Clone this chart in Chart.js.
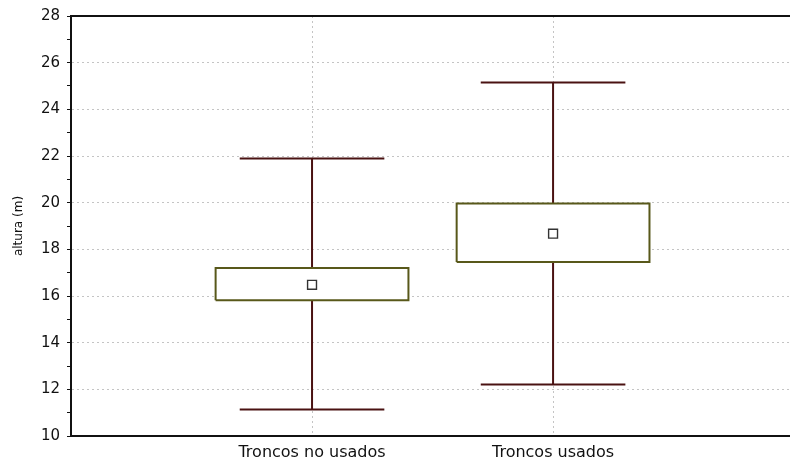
<!DOCTYPE html>
<html lang="es">
<head>
  <meta charset="UTF-8">
  <title>altura (m)</title>
  <style>
    body, html { margin:0; padding:0; overflow:hidden; background:#fff; }
    /* the plot runs past the right edge of the window, as in the original */
    #wrap { width:830px; height:463px; }
  </style>
</head>
<body>
  <div id="wrap"><canvas id="chart"></canvas></div>

  <script src="https://cdn.jsdelivr.net/npm/chart.js"></script>
  <script>
    // values
    const groups      = ['Troncos no usados', 'Troncos usados'];
    const whiskerLow  = [11.14, 12.21];
    const whiskerHigh = [21.89, 25.15];
    const boxLow      = [15.82, 17.46];
    const boxHigh     = [17.20, 19.96];
    const means       = [16.48, 18.67];
    const yTicks      = [10, 12, 14, 16, 18, 20, 22, 24, 26, 28];

    const whiskerColor = '#4a1212', boxColor = '#58581a';
    const capHalf = 0.30, boxHalf = 0.40;

    const datasets = [];
    groups.forEach((g, i) => {
      const x = i + 1;
      const seg = (pts, color, order) => ({
        data: pts, showLine: true, pointRadius: 0, borderColor: color,
        borderWidth: 2, fill: false, order: order
      });
      // whiskers
      datasets.push(seg([{x, y: whiskerLow[i]}, {x, y: whiskerHigh[i]}], whiskerColor, 3));
      datasets.push(seg([{x: x - capHalf, y: whiskerLow[i]}, {x: x + capHalf, y: whiskerLow[i]}], whiskerColor, 3));
      datasets.push(seg([{x: x - capHalf, y: whiskerHigh[i]}, {x: x + capHalf, y: whiskerHigh[i]}], whiskerColor, 3));
      // box
      datasets.push({
        data: [
          {x: x - boxHalf, y: boxLow[i]}, {x: x - boxHalf, y: boxHigh[i]},
          {x: x + boxHalf, y: boxHigh[i]}, {x: x + boxHalf, y: boxLow[i]},
          {x: x - boxHalf, y: boxLow[i]}
        ],
        showLine: true, pointRadius: 0, borderColor: boxColor, borderWidth: 2,
        backgroundColor: '#fff', fill: 'shape', tension: 0, order: 2
      });
      // mean
      datasets.push({
        data: [{x, y: means[i]}], pointStyle: 'rect', pointRadius: 6.3,
        pointBackgroundColor: '#fff', pointBorderColor: '#333', pointBorderWidth: 1.4,
        showLine: false, order: 1
      });
    });

    const frameTop = {
      id: 'frameTop',
      afterDraw(c) {
        const a = c.chartArea, ctx = c.ctx;
        ctx.save();
        ctx.strokeStyle = '#111';
        ctx.lineWidth = 2;
        ctx.beginPath();
        ctx.moveTo(a.left, a.top);
        ctx.lineTo(a.right, a.top);
        ctx.stroke();
        ctx.restore();
      }
    };

    new Chart(document.getElementById('chart'), {
      type: 'scatter',
      data: { datasets },
      plugins: [frameTop],
      options: {
        responsive: true,
        maintainAspectRatio: false,
        animation: false,
        layout: { padding: { top: 13, right: 0, left: 0, bottom: 0 } },
        plugins: { legend: { display: false }, tooltip: { enabled: false } },
        scales: {
          x: {
            type: 'linear', min: 0, max: 3.117,
            afterBuildTicks: s => { s.ticks = groups.map((g, i) => ({ value: i + 1 })); },
            afterFit: s => { s.height = 27; },
            ticks: {
              callback: v => groups[v - 1] || '',
              font: { family: 'DejaVu Sans', size: 16 }, color: '#111',
              padding: 7, maxRotation: 0
            },
            grid: { color: '#c4c4c4', lineWidth: 1, drawTicks: false },
            border: { display: true, color: '#111', width: 2, dash: [2, 3] }
          },
          y: {
            min: 10, max: 28,
            afterBuildTicks: s => {
              const t = [];
              for (let v = 10; v <= 28; v++) t.push({ value: v });
              s.ticks = t;
            },
            afterFit: s => { s.width = 71; },
            ticks: {
              callback: v => yTicks.includes(v) ? String(v) : '',
              font: { family: 'DejaVu Sans', size: 15 }, color: '#111',
              padding: 7
            },
            grid: {
              color: ctx => (ctx.tick && ctx.tick.value % 2 === 0 && ctx.tick.value > 10 && ctx.tick.value < 28) ? '#c4c4c4' : 'rgba(0,0,0,0)',
              tickColor: '#111',
              tickLength: 4
            },
            border: { display: true, color: '#111', width: 2, dash: [2, 3] },
            title: {
              display: true, text: 'altura (m)',
              font: { family: 'DejaVu Sans', size: 12 }, color: '#111',
              padding: { top: 12, bottom: 0 }
            }
          }
        }
      }
    });
  </script>
</body>
</html>
